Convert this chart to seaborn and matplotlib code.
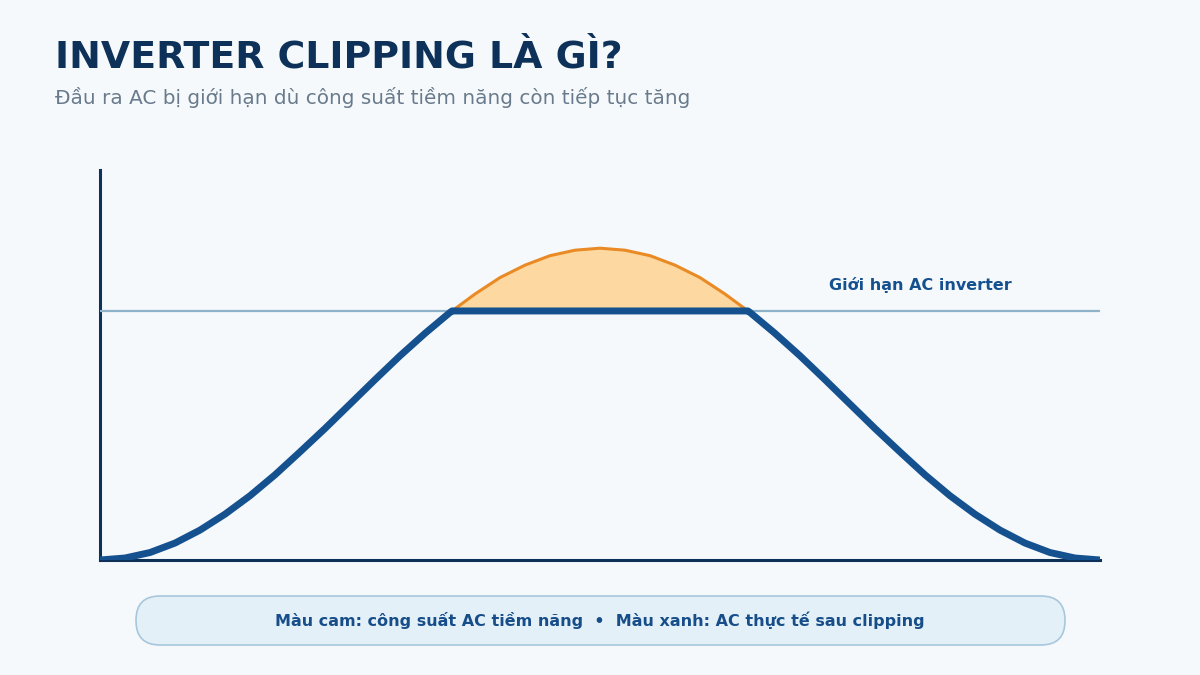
import numpy as np
import pandas as pd
import matplotlib.pyplot as plt
from matplotlib.patches import FancyBboxPatch
import seaborn as sns

# time of day (h) and potential AC output (kW)
hours = np.linspace(6, 18, 41)
potential_kw = [0.00, 0.04, 0.15, 0.34, 0.60, 0.92, 1.29, 1.71, 2.17, 2.64,
                3.13, 3.62, 4.10, 4.55, 4.97, 5.34, 5.67, 5.92, 6.11, 6.22,
                6.26, 6.22, 6.11, 5.92, 5.67, 5.34, 4.97, 4.55, 4.10, 3.62,
                3.13, 2.64, 2.17, 1.71, 1.29, 0.92, 0.60, 0.34, 0.15, 0.04, 0.00]
inverter_limit = 5.0

title = "INVERTER CLIPPING LÀ GÌ?"
subtitle = "Đầu ra AC bị giới hạn dù công suất tiềm năng còn tiếp tục tăng"
limit_label = "Giới hạn AC inverter"
note = "Màu cam: công suất AC tiềm năng  •  Màu xanh: AC thực tế sau clipping"

df = pd.DataFrame({"hour": hours, "potential": potential_kw})

# add the points where the potential curve crosses the limit so the
# clipped line gets clean corners
p = df["potential"].to_numpy()
h = df["hour"].to_numpy()
cross = []
for i in range(len(p) - 1):
    a, b = p[i] - inverter_limit, p[i + 1] - inverter_limit
    if a * b < 0:
        cross.append(h[i] + (h[i + 1] - h[i]) * (-a) / (b - a))
full = pd.concat([df, pd.DataFrame({"hour": cross, "potential": inverter_limit})])
full = full.sort_values("hour").reset_index(drop=True)
full["actual"] = np.minimum(full["potential"], inverter_limit)

bg = "#f5f9fc"
navy = "#0d3158"
blue = "#16518f"
orange = "#ea8a25"

sns.set_style("white")
plt.rcParams["font.family"] = ["DejaVu Sans"]

fig = plt.figure(figsize=(12, 6.75), dpi=100, facecolor=bg)
ax = fig.add_axes([100 / 1200, 115 / 675, 1000 / 1200, 390 / 675])
ax.set_facecolor(bg)

# clipped energy area
above = full[full["potential"] >= inverter_limit]
ax.fill_between(above["hour"], inverter_limit, above["potential"],
                color="#fdd9a1", lw=0, zorder=1)
sns.lineplot(data=above, x="hour", y="potential", color=orange, lw=2.2,
             ax=ax, zorder=2)
ax.axhline(inverter_limit, color="#8fb2cb", lw=1.6, zorder=3)
sns.lineplot(data=full, x="hour", y="actual", color=blue, lw=5.0, ax=ax,
             zorder=4, solid_capstyle="butt")

ax.set_xlim(6, 18)
ax.set_ylim(0, 7.83)
ax.set_xticks([])
ax.set_yticks([])
ax.set_xlabel("")
ax.set_ylabel("")
for side in ["top", "right"]:
    ax.spines[side].set_visible(False)
for side in ["left", "bottom"]:
    ax.spines[side].set_color(navy)
    ax.spines[side].set_linewidth(2.2)

ax.text(15.85, inverter_limit + 0.53, limit_label, ha="center", va="center",
        fontsize=11.5, fontweight="bold", color=blue)

fig.text(55 / 1200, 1 - 57.5 / 675, title, ha="left", va="center",
         fontsize=27.3, fontweight="bold", color=navy)
fig.text(55 / 1200, 1 - 97 / 675, subtitle, ha="left", va="center",
         fontsize=14.4, color="#687a8b")

box = FancyBboxPatch((136 / 1200, 1 - 645 / 675), 929 / 1200, 49 / 675,
                     boxstyle="round,pad=0,rounding_size=0.02",
                     transform=fig.transFigure, facecolor="#e3f0f8",
                     edgecolor="#a8c7dc", lw=1.2, mutation_aspect=1.78)
fig.patches.append(box)
fig.text(0.5, 1 - 620 / 675, note, ha="center", va="center",
         fontsize=11.5, fontweight="bold", color="#174e89")

fig.savefig("out.png", dpi=100, facecolor=bg)
